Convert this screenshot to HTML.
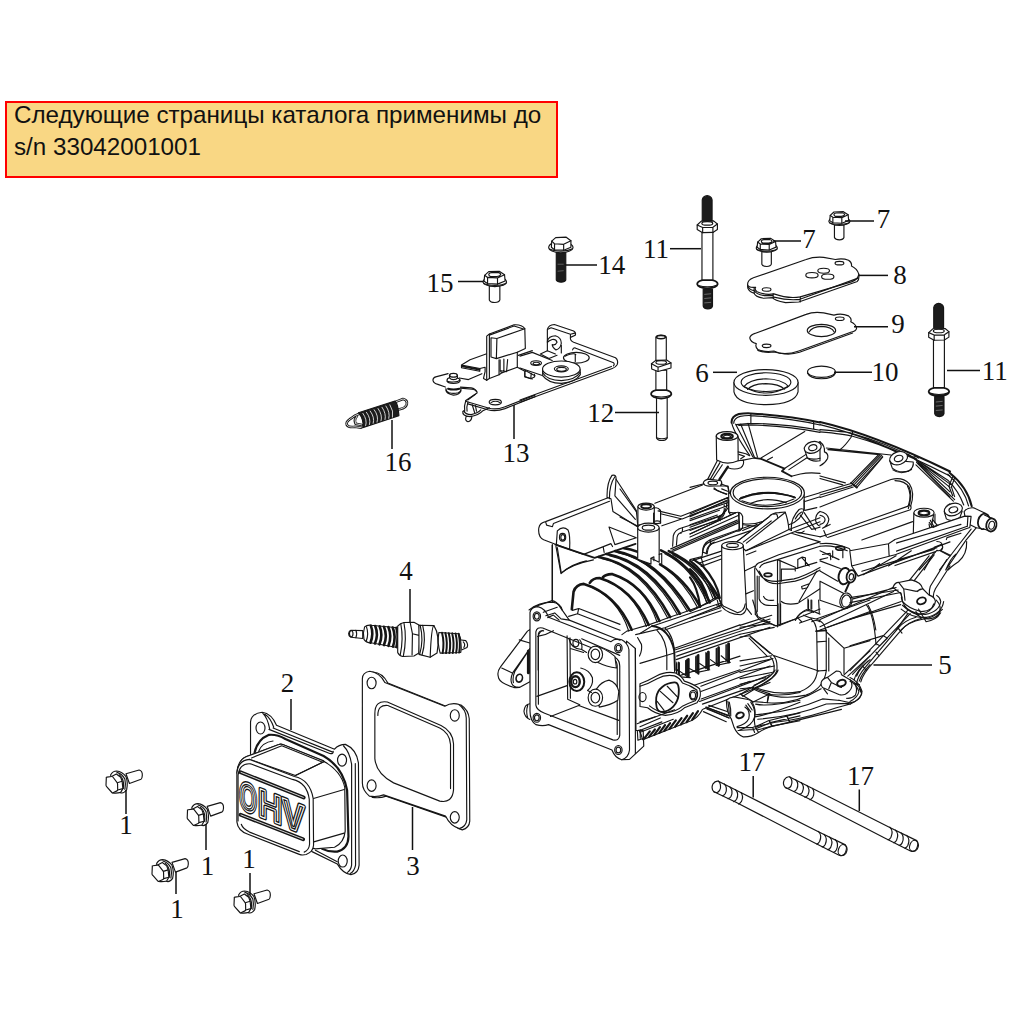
<!DOCTYPE html>
<html lang="ru"><head><meta charset="utf-8"><title>Каталог</title>
<style>
html,body{margin:0;padding:0;background:#fff;}
body{width:1025px;height:1025px;position:relative;overflow:hidden;font-family:"Liberation Sans",sans-serif;}
.note{position:absolute;left:5px;top:101px;width:549px;height:73px;border:2px solid #f00;background:#f9d784;box-sizing:content-box;}
.note p{margin:0;position:absolute;left:7px;top:-4px;font-size:24.2px;line-height:32px;color:#111;white-space:nowrap;}
svg{position:absolute;left:0;top:0;}
svg .l{fill:none;stroke:#151515;stroke-width:1.15;stroke-linecap:round;stroke-linejoin:round;vector-effect:non-scaling-stroke;}
svg .w{fill:#fff;stroke:#151515;stroke-width:1.15;stroke-linecap:round;stroke-linejoin:round;vector-effect:non-scaling-stroke;}
svg .k{fill:#1c1c1c;stroke:#151515;stroke-width:1.15;stroke-linejoin:round;vector-effect:non-scaling-stroke;}
svg .t{fill:none;stroke:#555;stroke-width:.7;stroke-linecap:round;stroke-linejoin:round;vector-effect:non-scaling-stroke;}
svg .sw .l{stroke-width:var(--sw);}
svg .ld{fill:none;stroke:#111;stroke-width:1.5;}
svg text.n{font-family:"Liberation Serif",serif;font-size:27px;fill:#111;text-anchor:middle;}
</style></head><body>
<div class="note"><p>Следующие страницы каталога применимы до<br>s/n 33042001001</p></div>
<svg width="1025" height="1025" viewBox="0 0 1025 1025">
<!-- 10_bolts1.svg -->
<g id="bolts1">
<g transform="translate(96.0,756.0) scale(0.0625)">
<path class="w" d="M480,285 L690,225 Q745,238 741,310 Q738,362 720,372 L535,440 Z"/>
<path class="w" d="M235,300 Q270,240 330,240 Q420,250 480,330 Q515,430 490,540 Q450,600 400,590 Q300,560 240,420 Z"/>
<path class="l" d="M335,262 Q420,285 462,370 Q480,450 462,535"/>
<path class="l" d="M372,300 Q430,350 440,430 Q445,480 435,520"/>
<path class="w" d="M250,328 L325,287 L395,340 L418,405 L430,522 L395,582 Q330,600 268,590 Z"/>
<path class="l" d="M340,428 L418,405 M347,545 L430,522"/>
<path class="w" d="M165,350 Q160,340 175,338 L250,328 Q262,326 270,336 L338,425 Q345,435 345,450 L347,540 Q347,552 335,558 L272,588 Q262,592 254,584 L170,490 Q160,480 160,465 Z"/>
</g>
<g transform="translate(177.2,788.6) scale(0.0625)">
<path class="w" d="M480,285 L690,225 Q745,238 741,310 Q738,362 720,372 L535,440 Z"/>
<path class="w" d="M235,300 Q270,240 330,240 Q420,250 480,330 Q515,430 490,540 Q450,600 400,590 Q300,560 240,420 Z"/>
<path class="l" d="M335,262 Q420,285 462,370 Q480,450 462,535"/>
<path class="l" d="M372,300 Q430,350 440,430 Q445,480 435,520"/>
<path class="w" d="M250,328 L325,287 L395,340 L418,405 L430,522 L395,582 Q330,600 268,590 Z"/>
<path class="l" d="M340,428 L418,405 M347,545 L430,522"/>
<path class="w" d="M165,350 Q160,340 175,338 L250,328 Q262,326 270,336 L338,425 Q345,435 345,450 L347,540 Q347,552 335,558 L272,588 Q262,592 254,584 L170,490 Q160,480 160,465 Z"/>
</g>
<g transform="translate(142.0,844.6) scale(0.0625)">
<path class="w" d="M480,285 L690,225 Q745,238 741,310 Q738,362 720,372 L535,440 Z"/>
<path class="w" d="M235,300 Q270,240 330,240 Q420,250 480,330 Q515,430 490,540 Q450,600 400,590 Q300,560 240,420 Z"/>
<path class="l" d="M335,262 Q420,285 462,370 Q480,450 462,535"/>
<path class="l" d="M372,300 Q430,350 440,430 Q445,480 435,520"/>
<path class="w" d="M250,328 L325,287 L395,340 L418,405 L430,522 L395,582 Q330,600 268,590 Z"/>
<path class="l" d="M340,428 L418,405 M347,545 L430,522"/>
<path class="w" d="M165,350 Q160,340 175,338 L250,328 Q262,326 270,336 L338,425 Q345,435 345,450 L347,540 Q347,552 335,558 L272,588 Q262,592 254,584 L170,490 Q160,480 160,465 Z"/>
</g>
<g transform="translate(224.0,876.0) scale(0.0625)">
<path class="w" d="M480,285 L690,225 Q745,238 741,310 Q738,362 720,372 L535,440 Z"/>
<path class="w" d="M235,300 Q270,240 330,240 Q420,250 480,330 Q515,430 490,540 Q450,600 400,590 Q300,560 240,420 Z"/>
<path class="l" d="M335,262 Q420,285 462,370 Q480,450 462,535"/>
<path class="l" d="M372,300 Q430,350 440,430 Q445,480 435,520"/>
<path class="w" d="M250,328 L325,287 L395,340 L418,405 L430,522 L395,582 Q330,600 268,590 Z"/>
<path class="l" d="M340,428 L418,405 M347,545 L430,522"/>
<path class="w" d="M165,350 Q160,340 175,338 L250,328 Q262,326 270,336 L338,425 Q345,435 345,450 L347,540 Q347,552 335,558 L272,588 Q262,592 254,584 L170,490 Q160,480 160,465 Z"/>
</g>
</g>

<!-- 20_gasket3.svg -->
<g id="gasket3" transform="translate(220,660) scale(0.249756)">
<!-- thickness shadow line (right/bottom) -->
<path class="w" d="M583,75 Q583,50 612,48 Q650,50 672,92 L910,187 Q935,172 965,180 Q995,200 998,235 L1000,645 Q998,672 970,680 Q935,672 915,632 L665,545 Q640,555 610,550 Q583,525 583,495 Z"/>
<path class="w" d="M570,75 Q570,50 600,45 Q640,50 660,90 L900,185 Q925,170 955,177 Q985,198 986,232 L988,640 Q985,668 958,675 Q922,665 903,625 L655,540 Q630,550 598,545 Q570,520 570,492 Z"/>
<path class="w" d="M620,215 Q620,160 670,168 L885,262 Q932,285 935,335 L935,520 Q930,575 880,565 L695,492 Q625,455 620,395 Z"/>
<path class="l" d="M632,222 Q632,178 672,182 L880,272 Q920,292 923,338 L923,515"/>
<ellipse class="w" cx="607" cy="92" rx="18" ry="23"/>
<ellipse class="w" cx="940" cy="222" rx="18" ry="23"/>
<ellipse class="w" cx="607" cy="503" rx="18" ry="23"/>
<ellipse class="w" cx="940" cy="630" rx="18" ry="23"/>
</g>

<!-- 21_cover2.svg -->
<g id="cover2">
<!-- flange + right side : zoom1 coords [228,700] x7.32 -->
<g transform="translate(228,700) scale(0.136585)">
<path class="w" d="M165,395 L165,160 Q170,100 250,90 Q320,100 355,185 L780,360 Q810,325 860,325 Q940,360 955,460 L960,1209 Q955,1270 900,1279 Q840,1270 800,1200 L615,1110 L300,700 Z"/>
<ellipse class="w" cx="238" cy="205" rx="33" ry="44"/>
<ellipse class="w" cx="835" cy="440" rx="33" ry="44"/>
<ellipse class="w" cx="840" cy="1179" rx="33" ry="44"/>
<path class="l" d="M300,215 L745,392 Q775,395 770,375 M330,205 L762,380 M270,105 Q310,130 335,200 M255,98 Q290,130 305,212"/>
<path class="l" d="M905,470 L905,1209 Q900,1245 875,1262 M932,465 L934,1209 Q925,1255 895,1270 M905,470 Q890,380 845,335"/>
<path class="l" style="stroke-width:2.2" d="M195,385 Q215,290 300,255 Q360,250 420,285 L700,410 Q840,490 872,660 L882,1000 Q880,1090 800,1110 Q740,1115 690,1090"/>
<path class="l" d="M225,375 Q250,310 330,300 M640,1100 L800,1185"/>
<!-- body silhouette right part -->
<path class="w" d="M78,535 Q70,440 136,414 L372,326 Q386,320 400,326 L700,448 Q830,520 855,640 L858,960 Q850,1045 780,1078 L640,1090 L300,1000 Z"/>
</g>
<!-- body front: 10.25x coords [232,736] -->
<g transform="translate(232,736) scale(0.097561)">
<path class="w" d="M50,380 Q55,250 150,210 L480,88 Q500,80 520,88 L940,255 L945,262 L650,405 L180,240 Z"/>
<path class="l" d="M200,225 L510,100 L930,270 M650,405 L945,262 M835,640 L1150,548 M838,1085 L1150,995"/>
<path class="w" d="M50,880 L50,380 Q60,250 180,240 L640,415 Q800,450 832,640 L836,1120 Q830,1190 760,1215 Q720,1225 690,1213 L170,1010 Q60,975 50,880 Z"/>
<path class="l" d="M62,870 L62,400 Q80,275 190,285 L620,445 Q770,480 792,650 L795,1110 Q790,1170 740,1190"/>
<path class="l" d="M95,905 Q110,950 180,985 L690,1185"/>
<path class="l" style="stroke-width:3.8" d="M88,372 L735,630 M88,808 L729,1058"/>
<path class="l" style="stroke-width:.8;stroke:#fff" d="M92,373 L731,629 M92,809 L725,1057"/>
</g>
<!-- OHV embossed text -->
<g transform="matrix(0.84,0.336,0,1,239.3,808.1)">
<text x="0" y="0" style="font-family:'Liberation Sans',sans-serif;font-weight:bold;font-size:40px;stroke-linejoin:round;fill:#fff;stroke:#151515;stroke-width:4"><tspan x="0" textLength="21.1" lengthAdjust="spacingAndGlyphs">O</tspan><tspan x="22.2">H</tspan><tspan x="50.9">V</tspan></text>
<text x="0" y="0" style="font-family:'Liberation Sans',sans-serif;font-weight:bold;font-size:40px;stroke-linejoin:round;fill:none;stroke:#fff;stroke-width:1.1"><tspan x="0" textLength="21.1" lengthAdjust="spacingAndGlyphs">O</tspan><tspan x="22.2">H</tspan><tspan x="50.9">V</tspan></text>
</g>
</g>

<!-- 22_plug4.svg -->
<g id="plug4" transform="translate(344,610) scale(0.124878)">
<!-- terminal -->
<path class="w" d="M55,162 L150,165 L150,228 L55,218 Q35,205 37,188 Q40,168 55,162 Z"/>
<ellipse class="l" cx="58" cy="190" rx="14" ry="24"/>
<path class="l" d="M95,163 Q108,190 95,222"/>
<!-- insulator ribs -->
<path class="w" d="M165,135 Q185,118 215,122 L430,142 L425,300 L215,262 Q175,262 160,235 Q148,185 165,135 Z"/>
<path class="l" style="stroke-width:2.6" d="M215,125 Q240,190 212,262 M250,128 Q278,195 248,268 M285,131 Q314,200 284,275 M320,134 Q350,205 320,281 M355,137 Q386,210 356,287 M390,140 Q420,215 392,293 M420,143 Q440,215 420,297"/>
<path class="l" d="M180,135 Q200,190 178,250"/>
<!-- hex -->
<path class="w" d="M430,130 Q450,105 480,100 L560,98 L600,120 L610,200 L600,345 L560,368 L470,372 Q440,365 430,340 Z"/>
<path class="l" d="M530,100 L548,190 L545,360 M548,190 L610,205 M480,102 Q505,230 475,370 M455,112 Q478,230 450,362"/>
<!-- body -->
<path class="w" d="M600,122 L720,125 Q770,200 745,345 L690,378 L600,355 Z"/>
<path class="l" d="M630,123 Q660,240 625,360 M610,122 Q640,240 606,356"/>
<path class="l" d="M720,125 Q700,135 690,378"/>
<!-- thread -->
<path class="w" d="M760,180 L920,190 Q950,260 935,340 L770,345 Q745,260 760,180 Z"/>
<path class="l" style="stroke-width:2" d="M785,182 Q805,260 790,345 M812,184 Q832,262 817,345 M839,186 Q859,264 844,345 M866,187 Q886,266 871,344 M893,188 Q913,268 898,343 M918,190 Q936,268 922,341"/>
<!-- tip -->
<path class="w" d="M940,240 L975,245 Q998,275 985,300 L945,318"/>
<path class="l" d="M955,255 Q975,275 960,300"/>
</g>

<!-- 23_spring16.svg -->
<g id="spring16" transform="translate(330,370) scale(0.124878)">
<!-- right hook -->
<path class="l" style="stroke-width:2.6" d="M525,255 L585,232 Q622,240 615,275 Q605,305 565,312 L540,318"/>
<path class="l" style="stroke-width:.8;stroke:#fff" d="M525,255 L585,232 Q622,240 615,275 Q605,305 565,312 L540,318"/>
<!-- left hook -->
<path class="l" style="stroke-width:2.6" d="M235,350 Q200,360 165,390 Q125,415 135,440 Q150,462 200,455 L250,462 M215,370 Q190,400 205,430 L255,440"/>
<path class="l" style="stroke-width:.8;stroke:#fff" d="M235,350 Q200,360 165,390 Q125,415 135,440 Q150,462 200,455 L250,462 M215,370 Q190,400 205,430 L255,440"/>
<!-- coil body -->
<path class="k" d="M228,342 L520,248 Q545,270 552,365 L262,462 Q275,400 228,342 Z"/>
<path style="fill:none;stroke:#fff;stroke-width:.8;vector-effect:non-scaling-stroke" d="M262,345 Q300,400 285,448 M290,336 Q330,390 315,440 M320,326 Q360,380 345,430 M352,316 Q392,370 376,420 M383,306 Q422,360 408,410 M415,296 Q452,350 440,400 M446,286 Q483,340 470,390 M478,276 Q512,330 500,380"/>
</g>

<!-- 24_bracket13.svg -->
<g id="bracket13">
<g transform="translate(425,320) scale(0.107317)">
<path class="l" d="M1025,700 L740,810 Q660,840 590,820 L385,760 L380,750 L485,680 Q490,655 440,645 L330,635 M190,625 L120,600 Q80,590 75,565 Q70,540 100,530 L215,500 M320,540 L405,555 L530,500"/>
<path class="l" d="M1025,716 L745,826 Q660,856 585,836 L400,782 M470,692 L398,745 M330,625 L430,632 Q470,640 478,665"/>
<path class="l" d="M340,420 L420,370 L575,315 M340,420 L340,445 L510,478 L512,452 L340,420 M512,452 L560,440 L560,480 L545,545 L575,562"/>
<path class="l" style="stroke-width:2" d="M350,432 L505,462"/>
<path class="w" d="M575,150 L600,130 L830,45 Q900,40 930,80 L935,265 L860,300 L860,440 L720,490 L690,510 L600,545 L575,562 Z"/>
<path class="l" d="M600,130 L600,545 M615,165 L670,172 L930,82 M670,172 L665,360 L615,345 L615,165 M665,360 L860,300 M600,141 L830,56 L925,86 M690,370 L690,510"/>
<path class="l" d="M700,372 L700,470 L760,482 L770,368 M735,365 L735,475 M720,490 L700,480"/>
<path class="l" d="M860,440 L935,480 M935,470 L1025,520 M930,490 L930,530 L1000,550 M870,330 L1000,285"/>
<!-- stud -->
<path class="w" d="M205,565 Q205,540 230,538 L228,515 Q232,497 265,497 Q298,497 302,515 L302,540 Q327,545 327,568 Q320,592 265,592 Q210,590 205,565 Z"/>
<path class="l" d="M228,515 Q235,533 265,533 Q298,533 302,515 M230,540 Q240,555 265,555 Q295,555 302,540 M207,572 Q230,580 265,578 Q310,576 326,560"/>
<path class="l" d="M195,640 Q195,665 225,678 Q265,690 310,678 Q335,665 335,645 M195,655 Q200,690 265,700 Q325,695 335,660 M195,640 L195,660 M335,645 L335,662"/>
<path class="l" style="stroke-width:2" d="M215,640 Q265,655 320,640"/>
<!-- hole -->
<ellipse class="l" cx="655" cy="765" rx="57" ry="26"/>
<path class="l" d="M615,770 Q655,745 700,770"/>
<!-- wire -->
<path class="l" d="M380,752 Q362,800 370,850 M400,765 Q385,810 392,850 M440,790 L462,862 M470,798 L480,850 M352,850 Q345,895 420,900 Q500,890 540,845 L600,818 M360,845 Q375,880 430,882 Q490,870 520,838 M382,902 Q370,940 400,948 Q432,942 436,905"/>
</g>
<g transform="translate(520,310) scale(0.107317)">
<path class="l" d="M255,380 L255,180 Q265,140 320,135 L500,195 Q525,210 515,235 L470,255 Q465,285 500,300 L890,445 Q920,470 905,510 Q890,535 860,545 L0,860"/>
<path class="l" d="M265,178 L290,166 L470,226 L510,216 M470,226 L470,255 M520,356 L872,492 M490,372 Q500,345 520,356 M852,526 L0,838 M872,492 Q885,505 870,520"/>
<path class="l" d="M255,292 Q265,242 330,240 Q385,255 385,310 Q375,365 335,372 Q300,350 300,322 Q330,332 345,300 Q335,270 300,275 Q270,285 255,302"/>
<path class="l" d="M255,380 L190,410 L270,452 L345,422 M255,380 L330,410 M385,330 L385,400"/>
<ellipse class="l" cx="525" cy="445" rx="120" ry="50"/>
<path class="l" d="M515,418 L515,480 M420,430 Q500,395 520,415"/>
<!-- arm -->
<path class="l" d="M0,430 L115,395 L300,470 M0,540 L215,612"/>
<ellipse class="l" cx="150" cy="495" rx="50" ry="22"/>
<ellipse class="l" cx="152" cy="499" rx="30" ry="12"/>
<path class="l" d="M45,570 L45,620 L100,640 L105,590 M100,640 L135,625 L135,600"/>
<!-- roller -->
<path class="w" d="M210,555 L212,612 Q260,682 385,684 Q520,672 562,602 L560,555 Z"/>
<path class="l" d="M211,585 Q250,655 385,658 Q520,650 561,580"/>
<ellipse class="w" cx="385" cy="550" rx="175" ry="75"/>
<ellipse class="l" cx="385" cy="548" rx="65" ry="28"/>
<ellipse class="l" cx="387" cy="553" rx="45" ry="18"/>
</g>
</g>

<!-- 30_small.svg -->
<g id="bolt15">
<g transform="translate(470.00,225.00) scale(0.117073)">
<path class="w" d="M165,520 L165,640 Q175,662 212,662 Q250,660 255,640 L255,520 Z"/>
<path class="w" d="M112,490 Q112,462 150,452 L275,452 Q312,465 312,490 Q305,520 212,526 Q120,520 112,490 Z"/>
<path class="l" d="M118,500 Q150,515 212,516 Q280,513 308,497"/>
<path class="w" d="M125,430 L160,398 L250,395 L295,425 L300,478 L235,505 L150,500 L120,480 Z"/>
<path class="l" d="M125,430 L150,448 L235,452 L295,425 M150,448 L150,500 M235,452 L235,505 M160,420 Q165,408 185,407 L240,405 Q262,410 262,425 Q255,438 230,440 L175,440 Q160,435 160,420"/>
</g>
</g>
<g class="bolt7">
<g transform="translate(744.46,196.77) scale(0.105366)">
<path class="w" d="M165,520 L165,640 Q175,662 212,662 Q250,660 255,640 L255,520 Z"/>
<path class="w" d="M112,490 Q112,462 150,452 L275,452 Q312,465 312,490 Q305,520 212,526 Q120,520 112,490 Z"/>
<path class="l" d="M118,500 Q150,515 212,516 Q280,513 308,497"/>
<path class="w" d="M125,430 L160,398 L250,395 L295,425 L300,478 L235,505 L150,500 L120,480 Z"/>
<path class="l" d="M125,430 L150,448 L235,452 L295,425 M150,448 L150,500 M235,452 L235,505 M160,420 Q165,408 185,407 L240,405 Q262,410 262,425 Q255,438 230,440 L175,440 Q160,435 160,420"/>
</g>
</g>
<g class="bolt7">
<g transform="translate(817.06,170.07) scale(0.105366)">
<path class="w" d="M165,520 L165,640 Q175,662 212,662 Q250,660 255,640 L255,520 Z"/>
<path class="w" d="M112,490 Q112,462 150,452 L275,452 Q312,465 312,490 Q305,520 212,526 Q120,520 112,490 Z"/>
<path class="l" d="M118,500 Q150,515 212,516 Q280,513 308,497"/>
<path class="w" d="M125,430 L160,398 L250,395 L295,425 L300,478 L235,505 L150,500 L120,480 Z"/>
<path class="l" d="M125,430 L150,448 L235,452 L295,425 M150,448 L150,500 M235,452 L235,505 M160,420 Q165,408 185,407 L240,405 Q262,410 262,425 Q255,438 230,440 L175,440 Q160,435 160,420"/>
</g>
</g>
<g id="bolt14">
<g transform="translate(470.00,225.00) scale(0.117073)">
<path class="k" d="M737,235 L737,470 Q745,488 778,488 Q812,486 818,470 L818,235 Z"/>
<path style="fill:none;stroke:#777;stroke-width:.7;vector-effect:non-scaling-stroke" d="M748,335 L800,335 M748,395 L800,390"/>
<path class="w" d="M672,195 Q672,165 710,155 L840,155 Q880,168 880,195 Q872,230 775,238 Q680,230 672,195 Z"/>
<path class="l" d="M678,205 Q710,222 775,224 Q845,220 874,203"/>
<path class="w" d="M698,138 L732,108 L822,104 L862,134 L862,190 L800,215 L722,212 L695,190 Z"/>
<path class="l" d="M698,138 L722,160 L800,165 L862,134 M722,160 L722,212 M800,165 L800,215"/>
</g>
</g>
<g id="stud11r">
<g transform="translate(900.00,290.00) scale(0.136612)">
<path class="k" d="M247,290 L247,128 Q252,100 283,97 Q314,100 319,128 L319,290 Z"/>
<path class="k" d="M254,780 L254,905 Q260,925 288,927 Q316,925 322,905 L322,780 Z"/>
<path style="fill:none;stroke:#888;stroke-width:.7;vector-effect:non-scaling-stroke" d="M262,820 L312,815 M262,850 L312,845 M262,882 L312,878"/>
<path class="w" d="M245,360 L245,735 L325,735 L325,360 Z"/>
<path class="w" style="stroke-width:1.8" d="M210,745 Q212,722 250,716 L320,716 Q358,722 360,745 Q355,772 285,776 Q215,772 210,745 Z"/>
<path class="l" d="M218,755 Q250,765 285,765 Q325,764 352,753"/>
<path class="w" d="M210,312 L240,284 L330,282 L358,305 L358,345 L325,366 L250,368 L210,345 Z"/>
<path class="l" d="M210,312 L250,330 L325,328 L358,305 M250,330 L250,368 M325,328 L325,366"/>
<ellipse class="l" cx="284" cy="300" rx="40" ry="13"/>
</g>
</g>
<g id="stud11l">
<g transform="translate(668.50,182.40) scale(0.136612)">
<path class="k" d="M247,290 L247,128 Q252,100 283,97 Q314,100 319,128 L319,290 Z"/>
<path class="k" d="M254,780 L254,905 Q260,925 288,927 Q316,925 322,905 L322,780 Z"/>
<path style="fill:none;stroke:#888;stroke-width:.7;vector-effect:non-scaling-stroke" d="M262,820 L312,815 M262,850 L312,845 M262,882 L312,878"/>
<path class="w" d="M245,360 L245,735 L325,735 L325,360 Z"/>
<path class="w" style="stroke-width:1.8" d="M210,745 Q212,722 250,716 L320,716 Q358,722 360,745 Q355,772 285,776 Q215,772 210,745 Z"/>
<path class="l" d="M218,755 Q250,765 285,765 Q325,764 352,753"/>
<path class="w" d="M210,312 L240,284 L330,282 L358,305 L358,345 L325,366 L250,368 L210,345 Z"/>
<path class="l" d="M210,312 L250,330 L325,328 L358,305 M250,330 L250,368 M325,328 L325,366"/>
<ellipse class="l" cx="284" cy="300" rx="40" ry="13"/>
</g>
</g>
<g id="stud12">
<g transform="translate(620.00,320.00) scale(0.126829)">
<path class="w" d="M283,135 L283,325 L365,325 L365,135 Q355,118 323,118 Q292,118 283,135 Z"/>
<ellipse class="l" style="stroke-width:1.6" cx="323" cy="135" rx="36" ry="13"/>
<path class="w" d="M283,395 L283,560 L368,560 L368,395 Z"/>
<path class="w" d="M288,610 L288,930 Q298,950 330,950 Q362,950 372,930 L372,610 Z"/>
<path class="l" d="M288,928 Q330,945 372,928"/>
<path class="w" style="stroke-width:1.8" d="M245,585 Q247,560 285,553 L365,553 Q403,560 405,585 Q400,615 325,620 Q250,615 245,585 Z"/>
<path class="l" d="M252,595 Q285,607 325,607 Q370,606 398,593"/>
<path class="w" d="M248,345 L282,318 L368,316 L402,338 L402,378 L300,406 L250,386 Z"/>
<path class="l" d="M248,345 L300,372 L402,338 M300,372 L300,406"/>
<ellipse class="l" cx="325" cy="335" rx="42" ry="14"/>
</g>
</g>

<!-- 31_plates.svg -->
<g id="plates">
<g transform="translate(730,250) scale(0.146341)">
<!-- plate 8 -->
<path class="w" d="M120,235 L122,262 Q135,290 165,295 Q170,320 230,330 L290,325 Q300,345 380,360 L470,355 L870,215 Q885,200 880,165 L120,235 Z"/>
<path class="w" d="M120,235 Q120,205 160,190 L520,65 Q570,45 640,50 L720,65 Q770,55 810,70 Q835,85 830,110 Q870,130 880,165 Q878,200 830,218 L480,320 Q400,335 300,300 Q240,310 185,285 Q165,270 175,255 Q125,260 120,235 Z"/>
<path class="l" d="M480,320 L480,355 M295,300 L295,328 M165,262 L165,295 M300,322 Q400,347 478,337 L875,192 M122,250 Q135,275 168,278 Q175,302 235,312 L292,312"/>
<ellipse class="l" cx="250" cy="270" rx="30" ry="12"/>
<ellipse class="l" cx="748" cy="90" rx="30" ry="12"/>
<ellipse class="l" cx="560" cy="172" rx="42" ry="18"/>
<ellipse class="l" cx="640" cy="142" rx="40" ry="17"/>
<ellipse class="l" cx="668" cy="182" rx="42" ry="18"/>
<!-- gasket 9 -->
<path class="w" d="M135,600 Q140,580 170,570 L520,440 Q570,420 640,430 L710,445 Q760,430 810,450 Q835,470 825,490 Q860,505 865,535 Q860,555 830,560 L470,690 Q400,715 340,705 L300,690 Q240,700 190,680 Q170,660 180,640 Q140,630 135,600 Z"/>
<path class="l" d="M300,697 Q400,724 475,699 L838,567 M190,686 Q240,706 300,697"/>
<ellipse class="l" cx="250" cy="655" rx="30" ry="12"/>
<ellipse class="l" cx="750" cy="470" rx="30" ry="12"/>
<ellipse class="l" cx="625" cy="550" rx="97" ry="42"/>
<path class="l" d="M540,560 Q560,525 625,522 Q695,525 712,560"/>
<!-- disc 10 -->
<path class="w" d="M530,832 L530,842 Q545,878 625,880 Q705,878 720,842 L720,832 Z"/>
<ellipse class="w" cx="625" cy="832" rx="95" ry="38"/>
</g>
<!-- seal 6 -->
<g transform="translate(700,340) scale(0.146341)">
<path class="w" d="M232,290 L232,355 Q250,440 450,442 Q650,440 670,355 L670,290 Z"/>
<ellipse class="w" cx="451" cy="290" rx="219" ry="88"/>
<ellipse class="l" cx="451" cy="288" rx="170" ry="64"/>
<path class="l" d="M300,318 Q340,268 450,265 Q560,268 602,316 M325,338 Q360,300 450,298 Q540,300 578,336 M300,318 Q380,365 450,362 Q530,362 602,316"/>
</g>
</g>

<!-- 32_studs17.svg -->
<g id="studs17">
<g transform="translate(700,730) scale(0.224390) translate(0,0)">
<path class="w" d="M82,228 L175,275 L530,455 L648,512 Q662,530 650,550 Q638,565 620,558 L505,500 L160,322 L62,275 Q48,262 58,240 Q68,225 82,228 Z"/>
<path class="l" d="M82,228 Q98,245 88,268 Q78,285 62,275 M108,240 Q125,258 113,283 Q108,292 100,293 M133,253 Q150,271 138,296 Q133,305 125,306 M158,266 Q175,284 163,309 Q158,318 150,319 M183,279 Q195,295 185,318 Q180,328 172,330"/>
<path class="l" d="M528,452 Q545,470 533,497 Q528,507 520,508 M553,465 Q570,483 558,510 Q553,520 545,521 M578,477 Q595,495 583,522 Q578,532 570,533 M603,489 Q620,507 608,534 Q603,544 595,545"/>
<ellipse class="l" cx="634" cy="535" rx="17" ry="25" transform="rotate(20 634 535)"/>
</g>
<g transform="translate(700,730) scale(0.224390) translate(318,-19)">
<path class="w" d="M82,228 L175,275 L530,455 L648,512 Q662,530 650,550 Q638,565 620,558 L505,500 L160,322 L62,275 Q48,262 58,240 Q68,225 82,228 Z"/>
<path class="l" d="M82,228 Q98,245 88,268 Q78,285 62,275 M108,240 Q125,258 113,283 Q108,292 100,293 M133,253 Q150,271 138,296 Q133,305 125,306 M158,266 Q175,284 163,309 Q158,318 150,319 M183,279 Q195,295 185,318 Q180,328 172,330"/>
<path class="l" d="M528,452 Q545,470 533,497 Q528,507 520,508 M553,465 Q570,483 558,510 Q553,520 545,521 M578,477 Q595,495 583,522 Q578,532 570,533 M603,489 Q620,507 608,534 Q603,544 595,545"/>
<ellipse class="l" cx="634" cy="535" rx="17" ry="25" transform="rotate(20 634 535)"/>
</g>
</g>

<!-- 39_arm.svg -->
<g id="arm" transform="translate(490,620) scale(0.117073)">
<path class="w" d="M345,80 L320,95 L90,400 Q60,440 70,480 L75,500 Q90,540 200,575 Q250,585 290,555 L345,525 Z"/>
<path class="l" d="M340,245 L195,450 Q170,500 185,540 Q200,575 240,576 M250,170 L340,196 M100,410 L190,452 M322,272 L212,440 Q190,490 200,535"/>
<ellipse class="l" style="stroke-width:1.6" cx="250" cy="497" rx="27" ry="34" transform="rotate(15 250 497)"/>
<path class="l" style="stroke-width:3" d="M328,265 L328,450"/>
<path class="l" d="M340,715 Q295,720 290,780 Q295,830 340,850 M322,730 Q305,780 322,835"/>
</g>

<!-- 40_case_B1.svg -->
<g id="caseB1" transform="translate(490,590) scale(0.195122)">
<!-- frame right-side depth -->
<path class="w" d="M700,262 L745,300 L748,720 L785,720 L788,800 L715,868 L675,870 Z"/>
<path class="l" d="M745,300 L745,838 M770,715 L770,760 M755,720 L758,770 L788,760"/>
<!-- front frame -->
<path class="w" d="M205,620 L205,115 Q210,88 245,85 Q285,95 300,140 L620,265 Q640,245 675,255 Q705,270 712,305 L715,820 Q710,860 675,870 Q640,860 625,820 L300,690 Q270,700 235,690 Q205,670 205,620 Z"/>
<path class="w" d="M235,590 L235,215 Q240,188 270,195 L640,345 Q665,360 665,390 L665,745 Q660,775 630,768 L280,632 Q238,615 235,590 Z"/>
<path class="l" d="M248,585 L248,225 Q252,205 275,210 M640,358 Q652,368 652,395 L652,740"/>
<ellipse class="l" cx="240" cy="135" rx="19" ry="23"/>
<ellipse class="l" cx="240" cy="135" rx="12" ry="15"/>
<ellipse class="l" cx="658" cy="298" rx="19" ry="23"/>
<ellipse class="l" cx="658" cy="298" rx="12" ry="15"/>
<ellipse class="l" cx="240" cy="655" rx="19" ry="23"/>
<ellipse class="l" cx="240" cy="655" rx="12" ry="15"/>
<ellipse class="l" cx="658" cy="820" rx="19" ry="23"/>
<ellipse class="l" cx="658" cy="820" rx="12" ry="15"/>
<!-- interior -->
<path class="l" d="M395,235 L398,560 M410,245 L412,555 M240,545 L395,490 M398,560 L460,588 M310,648 L455,592 L660,668 M412,300 L480,320 M470,250 L665,335"/>
<path class="l" d="M405,250 Q415,300 470,305 Q475,275 460,255 M470,305 L495,320"/>
<ellipse class="l" cx="440" cy="272" rx="15" ry="19"/>
<path class="w" d="M540,292 Q580,290 640,340 L648,400 Q600,395 545,368 Z"/>
<ellipse class="w" cx="540" cy="330" rx="37" ry="42"/>
<ellipse class="l" cx="540" cy="330" rx="22" ry="27"/>
<path class="w" d="M545,508 Q570,470 610,462 Q650,475 660,520 L655,565 Q620,590 560,600 Z"/>
<ellipse class="w" cx="540" cy="552" rx="37" ry="44"/>
<ellipse class="l" cx="540" cy="552" rx="22" ry="27"/>
<path class="l" d="M465,400 Q510,410 525,450 Q530,490 500,515 M500,515 L520,525"/>
<ellipse class="w" style="stroke-width:2" cx="445" cy="470" rx="38" ry="48"/>
<ellipse class="l" style="stroke-width:2.4" cx="438" cy="470" rx="22" ry="28"/>
<ellipse class="l" cx="436" cy="470" rx="9" ry="12"/>
</g>

<!-- 41_case_M.svg -->
<g id="caseM" transform="translate(540,500) scale(0.195122)">
<!-- fins -->
<g class="sw" style="--sw:2.6">
<path class="l" d="M163,560 L172,470 Q185,432 225,430 Q390,480 470,665"/>
<path class="l" d="M255,425 Q270,400 305,400 Q470,450 557,640"/>
<path class="l" d="M322,396 Q340,378 372,380 Q530,430 612,620"/>
<path class="l" d="M300,292 Q520,330 667,600"/>
<path class="l" d="M340,277 Q560,315 717,583"/>
<path class="l" d="M385,262 Q600,300 767,565"/>
<path class="l" d="M430,247 Q500,255 560,300 M615,330 Q740,400 820,545"/>
<path class="l" d="M620,258 Q780,330 870,525"/>
<path class="l" d="M660,262 Q830,340 915,500"/>
</g>
<path class="l" d="M240,436 Q400,500 455,672 M318,404 Q480,465 545,648 M385,384 Q540,445 600,626 M315,300 Q520,345 655,606 M355,285 Q560,330 705,588 M400,270 Q600,312 755,570 M635,345 Q740,420 808,552 M640,275 Q780,345 858,530 M680,280 Q820,350 902,508"/>
<path class="l" d="M470,665 L557,640 M557,640 L612,620 L667,600 L717,583 L767,565 L820,545 L870,525 L915,500 L935,540"/>
<!-- fin base -->
<path class="l" d="M420,690 L445,672 L470,665"/>
<!-- cylinder band -->
<path class="l" d="M490,690 L640,655 L930,540 L1025,580 M500,705 L520,740 Q525,770 510,800 M640,655 Q690,700 690,800 L690,880 M600,668 Q650,720 650,800 L650,870 M690,760 L1025,640 M700,800 L1025,688 M930,540 L915,500"/>
<!-- comb -->
<g class="sw" style="--sw:2">
<path class="l" d="M712,835 L712,900 M762,815 L762,905 M812,795 L812,890 M862,778 L862,868 M915,757 L915,850 M965,737 L965,830"/>
</g>
<path class="l" d="M700,838 L700,905 L770,910 M750,820 L750,895 M800,800 L800,885 L870,870 M850,782 L850,865 M903,762 L903,848 L975,832 M953,742 L953,828 M700,905 L1025,800 M760,960 L1025,870"/>
</g>

<!-- 42_case_J.svg -->
<g id="caseJ" transform="translate(490,540) scale(0.126829)">
<!-- ear depth -->
<path class="l" d="M340,530 L490,478 Q520,482 540,512 L625,632 M420,570 L530,530 M440,597 L510,575 L560,622 L625,632 M455,612 L500,592 L545,632"/>
<path class="l" d="M625,632 L1025,790"/>
<!-- wall vertical -->
<path class="l" d="M490,40 L490,478"/>
<!-- fin base at left -->
<path class="l" d="M650,555 L700,540 L690,582 L620,602 M700,540 L1025,665 M690,582 L1025,712"/>
<!-- arc inside opening -->
<path class="l" d="M375,760 Q440,750 500,715 M380,1025 L380,765 Q385,722 420,712"/>
<!-- flap -->
<path class="l" d="M520,50 L560,265 Q640,190 760,165"/>
</g>

<!-- 43_case_A1.svg -->
<g id="caseA1" transform="translate(490,410) scale(0.195122)">
<!-- top rail -->
<path class="l" d="M250,605 Q255,578 285,572 L605,450 M325,582 L612,468 M285,572 L290,590 L320,598 L325,582 M250,605 Q245,650 275,665 L335,688"/>
<!-- lug -->
<path class="w" d="M340,690 L345,620 Q372,592 400,615 Q412,640 408,715 Z"/>
<ellipse class="l" cx="372" cy="652" rx="16" ry="20"/>
<ellipse class="l" cx="373" cy="653" rx="10" ry="14"/>
<!-- under rail, shroud edge -->
<path class="l" style="stroke-width:1.8" d="M335,690 L536,758 L746,686"/>
<path class="l" d="M408,715 L480,740 L620,685 L628,700 M580,700 L585,730 M345,705 L365,835 Q420,790 530,768"/>
<path class="l" d="M320,690 L320,985 M200,1025 Q250,985 320,985 Q360,990 370,1025"/>
<!-- blade -->
<path class="w" d="M600,448 Q598,375 625,335 Q648,328 646,355 L750,515 L758,600 L630,520 L620,455 Z"/>
<path class="l" d="M612,455 Q612,380 640,342 M646,355 L640,440 L745,560"/>
<path class="l" d="M610,600 L640,690 L750,655 Z"/>
<!-- boss 1 -->
<path class="w" d="M758,495 L758,590 L842,585 L842,495 Z"/>
<ellipse class="w" cx="800" cy="495" rx="42" ry="18"/>
<ellipse class="l" style="stroke-width:2" cx="800" cy="493" rx="25" ry="10"/>
<!-- boss 2 -->
<path class="w" d="M757,605 L757,765 L825,790 L825,760 L867,780 L867,605 Z"/>
<ellipse class="w" cx="812" cy="603" rx="55" ry="23"/>
<ellipse class="l" cx="812" cy="603" rx="32" ry="13"/>
<path class="l" d="M825,760 L840,752 L840,772 M867,740 L880,735 L880,790"/>
</g>

<!-- 44_case_K1.svg -->
<g id="caseK1" transform="translate(690,410) scale(0.126829)">
<!-- rim arcs -->
<path class="l" style="stroke-width:2" d="M328,100 Q325,50 385,32 Q430,25 480,27 Q780,45 1025,98"/>
<path class="l" d="M345,105 Q345,65 395,50 Q440,42 480,44 Q780,62 1025,118 M365,115 L480,105 Q760,110 1025,160 M385,122 L480,118 Q760,125 1025,176 M480,28 L480,105 M975,88 L975,152"/>
<path class="l" d="M330,105 Q345,175 470,358 M360,112 L495,368 M400,112 L508,372 M458,105 L532,372"/>
<!-- deck raised region -->
<path class="l" style="stroke-width:1.8" d="M505,378 L560,385 L745,462 L725,482 L800,522"/>
<path class="l" d="M420,395 L505,378 M800,522 L870,505 Q940,490 1025,500 M560,378 L905,170 M745,462 L915,350 M780,470 L940,365 M610,395 L650,372"/>
<!-- threaded boss -->
<path class="w" d="M207,205 L210,395 Q290,440 380,400 L378,205 Z"/>
<ellipse class="w" cx="292" cy="205" rx="85" ry="35"/>
<ellipse class="l" style="stroke-width:2.2" cx="292" cy="207" rx="45" ry="19"/>
<ellipse class="l" cx="292" cy="210" rx="27" ry="11"/>
<path class="l" d="M380,400 L420,395 Q432,430 400,455 Q350,475 300,455 M380,330 L440,345 L470,360 M385,350 L430,365 L400,385"/>
<!-- arm to eye -->
<path class="l" d="M215,400 L140,545 M255,432 L178,548 M236,415 L160,545"/>
<path class="l" style="stroke-width:2.4" d="M298,448 L232,548"/>
<path class="l" d="M105,575 Q110,550 150,545 L245,558 Q258,580 240,597 L150,600 Q108,598 105,575 Z M240,597 L300,600 L310,660 M190,615 Q215,642 250,650 L292,662 M250,622 L296,640"/>
<ellipse class="l" cx="180" cy="575" rx="38" ry="14"/>
<!-- right boss -->
<path class="w" d="M900,300 L925,378 Q960,412 1025,400 L1025,250 Z"/>
<ellipse class="w" cx="968" cy="295" rx="68" ry="45" transform="rotate(-15 968 295)"/>
<ellipse class="l" cx="968" cy="297" rx="33" ry="23" transform="rotate(-15 968 297)"/>
<path class="l" d="M925,378 Q970,395 1025,380"/>
<!-- bearing ring -->
<path class="w" d="M305,655 L305,800 Q320,850 420,905 Q600,935 780,905 Q880,870 900,780 L900,655 Z"/>
<ellipse class="w" cx="610" cy="655" rx="292" ry="125"/>
<ellipse class="l" cx="610" cy="652" rx="270" ry="110"/>
<path class="l" d="M390,702 Q600,600 830,692 M410,716 Q610,792 820,702 M400,690 Q600,625 822,684 M480,735 Q600,680 760,732"/>
<path class="l" style="stroke-width:1.8" d="M395,700 Q600,612 828,690"/>
<!-- left deck lines -->
<path class="l" d="M0,610 L110,582 M0,820 L300,690 M0,842 L290,712 M0,872 L232,790 M0,905 L215,828"/>
<!-- right lines -->
<path class="l" d="M900,690 L1025,652 M905,722 L1025,684"/>
</g>

<!-- 45_case_K2.svg -->
<g id="caseK2" transform="translate(690,500) scale(0.126829)">
<!-- deck long lines left of ring -->
<path class="l" d="M300,20 L0,122 M295,45 L0,150 M240,125 L0,215 M235,150 L0,240 M290,20 Q292,90 235,140 M270,40 L270,80 Q260,120 220,150"/>
<!-- rib 1 -->
<path class="w" d="M360,100 Q400,85 415,130 L415,215 Q400,250 370,245 L160,328 L0,268 Z" style="stroke:none"/>
<path class="l" d="M0,268 L360,100 Q400,85 415,130 L415,215 Q400,250 370,245 L160,328"/>
<path class="l" d="M380,122 L0,292 M382,105 Q395,170 385,240 M360,100 L0,268"/>
<path class="l" d="M160,328 Q108,345 100,410 L95,445 M192,332 Q140,352 135,425 M100,410 L135,425 M95,445 L0,470"/>
<!-- ring bottom front & floor -->
<path class="l" d="M415,185 Q500,200 600,160 M415,240 L530,192 M305,0 L305,95 Q330,105 360,100"/>
<!-- rib 2 -->
<path class="w" d="M620,135 Q650,100 700,100 L750,95 Q772,150 780,232 L440,400 L365,332 Z"/>
<path class="l" d="M640,165 L420,332 M750,98 L445,340 M620,135 L365,332 M660,112 Q690,100 690,135"/>
<!-- right foot -->
<path class="l" d="M800,240 Q790,150 860,75 Q885,60 905,82 M830,250 Q870,272 900,245 M780,232 L800,240 M905,82 L1000,60 M870,120 L960,232 L1025,215 M900,100 L990,236 M830,150 Q850,110 880,95 M900,0 L900,70"/>
<path class="l" d="M1025,90 Q990,110 990,160 Q1000,200 1025,205"/>
<!-- long deck edge lines -->
<path class="l" d="M440,400 L1025,172 M445,432 L520,402 M780,232 L1025,140 M800,262 L1025,330 M850,255 L1025,290"/>
<!-- box -->
<path class="w" style="stroke:none" d="M510,545 Q515,500 560,490 L700,432 L1025,330 L1025,860 L690,995 L545,942 L515,900 Z"/>
<path class="l" d="M1025,330 L700,432 L560,490 Q515,500 510,545 L515,900"/>
<path class="l" d="M520,540 L560,600 Q600,642 680,642 L820,622 Q900,602 1025,532 M550,532 Q560,506 600,496 L690,470 L1025,365 M545,560 L575,612 Q610,660 690,660 L830,640 Q910,620 1025,552"/>
<path class="l" d="M545,602 L545,780 Q560,832 640,832 L690,830 M690,470 L690,1000 M710,480 L710,990 M515,900 L545,942 L690,995 L1025,860 M530,600 L530,880"/>
<path class="l" d="M690,470 L830,530 L830,560 M720,545 L820,545 L1000,492 M850,470 L850,540 M880,452 L940,520 M850,470 L885,450 L910,455 L910,520 M720,545 L720,640"/>
<ellipse class="l" style="stroke-width:1.8" cx="615" cy="590" rx="30" ry="14"/>
<path class="l" d="M880,682 L940,660 L925,692 L885,702 Z M1000,560 L860,800 M720,800 Q760,832 850,815 L1025,700 M580,760 Q600,800 660,790"/>
<!-- boss 3 -->
<path class="w" d="M250,360 L250,840 Q300,900 400,905 Q440,890 445,850 L420,360 Z"/>
<ellipse class="w" cx="335" cy="360" rx="85" ry="32"/>
<ellipse class="l" cx="335" cy="358" rx="46" ry="16"/>
<path class="l" d="M250,820 Q225,852 212,832 M445,850 L485,902 M430,560 L510,522 M440,740 L500,715"/>
<!-- fins bottom-left -->
<g class="sw" style="--sw:2.2">
<path class="l" d="M30,470 L100,520 Q210,640 235,772 M0,480 Q120,560 200,770 M0,545 Q100,625 150,800 M0,610 Q60,690 80,842"/>
</g>
<path class="l" d="M0,500 Q110,585 180,775 M0,565 Q85,640 130,805 M235,772 L200,770 L150,800 L80,842 L0,880 M0,930 L240,850 M240,850 Q220,830 215,790"/>
<!-- bottom right -->
<path class="l" d="M830,950 Q870,880 930,860 L1025,900 M850,930 L880,960 M930,780 L930,850 M960,790 L960,860 M960,960 Q990,940 1025,960"/>
</g>

<!-- 46_case_K3.svg -->
<g id="caseK3" transform="translate(820,410) scale(0.126829)">
<path class="l" style="stroke-width:2" d="M0,95 Q420,190 1025,485"/>
<path class="l" d="M0,115 Q420,215 1025,520 M0,155 Q200,170 255,185 Q520,260 760,385 M0,172 Q200,190 250,205 Q480,270 600,332 M258,172 L245,215 Q200,280 160,312"/>
<path class="l" d="M745,385 L1025,610 M760,400 L1025,645 M772,422 L1025,685 M735,372 Q760,360 775,380"/>
<!-- left boss remainder -->
<path class="l" d="M0,250 Q40,282 35,330 Q70,342 60,382 Q40,420 0,440"/>
<path class="l" d="M50,300 L560,355 M62,312 L470,352 M160,312 L62,312"/>
<!-- hatched rib -->
<path class="w" d="M245,575 L460,355 Q480,345 495,370 L290,612 Z"/>
<path class="l" d="M255,582 L470,360 M266,592 L480,366 M279,602 L490,373"/>
<path class="l" style="stroke-width:1.8" d="M245,575 L290,612"/>
<!-- middle boss -->
<path class="w" d="M548,395 L570,458 Q620,502 700,482 Q742,450 735,410 Z"/>
<path class="l" d="M575,472 Q640,518 722,470"/>
<ellipse class="w" cx="620" cy="380" rx="72" ry="50" transform="rotate(-18 620 380)"/>
<ellipse class="l" cx="620" cy="382" rx="35" ry="24" transform="rotate(-18 620 382)"/>
<!-- channel -->
<path class="l" d="M0,650 L245,580 M0,670 L252,596 M0,690 L262,607 M0,765 L330,635 L560,548 Q650,525 705,582 Q750,650 715,757 M690,600 Q725,660 698,750"/>
<path class="l" d="M0,540 L180,590 M0,520 L200,575"/>
<path class="l" d="M50,985 L690,760 M60,1005 L712,786 M330,1025 L730,880 M0,1000 L50,985 M690,760 Q700,740 715,757 Q722,775 712,786"/>
<!-- threaded boss -->
<path class="w" d="M740,812 L735,1000 L870,960 L895,830 Z"/>
<ellipse class="w" cx="820" cy="810" rx="80" ry="35"/>
<ellipse class="l" style="stroke-width:2.2" cx="820" cy="812" rx="42" ry="18"/>
<path class="l" d="M870,870 L905,930 M885,860 L930,915 M860,900 L870,960"/>
<!-- far right boss partial -->
<path class="l" d="M1025,740 Q980,760 985,810 Q990,842 1025,852"/>
<!-- bottom-left boss partial -->
<path class="l" d="M0,800 Q60,810 70,860 Q65,910 20,932 M0,830 Q40,840 40,866 Q35,895 0,902 M20,932 L80,902 M30,950 L50,1000"/>
<path class="l" d="M700,990 L1025,900 M760,1025 L1025,942"/>
</g>

<!-- 47_case_K5.svg -->
<g id="caseK5" transform="translate(895,440) scale(0.126829)">
<path class="l" style="stroke-width:2" d="M430,258 Q570,370 605,522"/>
<path class="l" d="M415,270 Q545,380 580,520 M100,110 L420,320 Q500,400 542,512 M160,150 L440,352 M170,176 L470,470 M165,196 L460,482 M455,290 L425,365 L455,440 M470,300 L445,370 L470,446"/>
<!-- channel end second line -->
<path class="l" d="M0,320 Q80,322 112,372 Q140,430 105,540"/>
<!-- boss right -->
<path class="w" d="M388,565 L405,622 Q450,652 512,610 L530,560 Z"/>
<ellipse class="w" cx="460" cy="548" rx="72" ry="48" transform="rotate(-15 460 548)"/>
<ellipse class="l" cx="460" cy="550" rx="35" ry="22" transform="rotate(-15 460 550)"/>
<!-- pivot boss -->
<path class="w" d="M545,565 Q570,530 620,535 L712,578 L690,700 L640,692 L560,652 Z"/>
<ellipse class="w" style="stroke-width:1.8" cx="700" cy="642" rx="45" ry="62" transform="rotate(15 700 642)"/>
<path class="w" d="M700,600 L762,620 L760,722 L700,700 Z" style="stroke:none"/>
<path class="l" d="M705,592 L765,618 M698,700 L752,722"/>
<ellipse class="w" style="stroke-width:1.8" cx="760" cy="670" rx="40" ry="52" transform="rotate(12 760 670)"/>
<ellipse class="l" cx="762" cy="672" rx="22" ry="32" transform="rotate(12 762 672)"/>
<!-- rail -->
<path class="w" d="M0,785 L550,600 L600,602 L590,690 L560,700 L0,905 Z"/>
<path class="l" d="M0,815 L400,700 M0,880 L570,680 M575,602 L570,682 M0,960 L330,850 M0,990 L320,880 M400,700 L520,665 M410,770 L520,735 M410,770 L405,785"/>
<!-- threaded boss (extends K3) lower lines -->
<path class="l" d="M270,650 L300,690 L340,672 M315,585 L315,652"/>
<!-- lower right -->
<path class="l" d="M640,692 L560,790 L400,1025 M600,702 L500,830 L350,1025 M565,800 Q570,900 500,960 Q440,1000 420,1025 M480,900 Q440,930 400,1025 M330,800 Q380,800 375,850 Q360,882 330,870 M360,872 L440,910 M330,870 L190,1025 M300,900 L230,1025"/>
</g>

<!-- 48_case_K4.svg -->
<g id="caseK4" transform="translate(820,500) scale(0.126829)">
<!-- box corner and small boss -->
<path class="l" d="M0,345 Q100,330 230,382 L240,398 M0,365 Q100,352 215,400 M100,400 L100,452 M20,430 L80,420 L85,470 M0,470 L60,455 M180,400 L180,455"/>
<ellipse class="l" style="stroke-width:1.8" cx="160" cy="380" rx="35" ry="15"/>
<!-- bar -->
<path class="w" style="stroke:none" d="M235,400 L540,345 L600,312 L600,432 L560,440 L250,520 Z"/>
<path class="l" d="M235,400 L540,345 L591,312 M540,345 L545,440 M235,400 L250,520 L560,440 L600,430 M300,600 L600,490 M330,562 L600,480 M250,520 L300,600"/>
<path class="l" d="M340,590 L600,440 M540,520 L720,400 M420,540 L470,502 M600,490 L1025,330 M620,470 L900,390"/>
<!-- lever end -->
<path class="l" d="M0,480 L160,540 M0,560 L140,640 M0,400 L150,470"/>
<ellipse class="w" style="stroke-width:2" cx="192" cy="600" rx="45" ry="65" transform="rotate(12 192 600)"/>
<ellipse class="w" style="stroke-width:1.8" cx="245" cy="602" rx="35" ry="50" transform="rotate(12 245 602)"/>
<ellipse class="l" cx="247" cy="606" rx="17" ry="25" transform="rotate(12 247 606)"/>
<path class="l" style="stroke-width:2" d="M232,650 L200,722"/>
<!-- tube -->
<path class="w" d="M185,735 L0,640 L0,790 L190,856 Z"/>
<ellipse class="w" cx="205" cy="795" rx="48" ry="62" transform="rotate(12 205 795)"/>
<ellipse class="l" cx="207" cy="797" rx="36" ry="48" transform="rotate(12 207 797)"/>
<!-- right struts -->
<path class="l" d="M900,372 L960,350 Q978,380 950,402 L1025,442 M860,440 L700,640 M900,432 L740,640 M1000,470 L870,680 M1025,520 L910,700 Q880,760 905,800 M870,680 Q850,740 880,790"/>
<!-- mount lug -->
<path class="w" d="M575,690 Q590,650 620,650 L720,630 Q800,650 810,700 L860,750 Q905,762 910,800 Q900,872 800,880 Q700,860 650,800 L640,740 Z"/>
<ellipse class="l" style="stroke-width:1.8" cx="800" cy="795" rx="36" ry="26" transform="rotate(-20 800 795)"/>
<path class="l" d="M620,650 L660,700 L760,720 L810,700 M660,700 L670,790 M650,830 Q720,902 830,902 Q940,882 952,800 Q948,770 920,752 M640,860 Q720,930 840,925 Q960,900 975,800 M810,700 Q780,700 770,722"/>
<!-- long lines -->
<path class="l" d="M0,1000 L580,722 M0,942 L575,690 M260,780 L600,690 M0,1025 L640,800 M380,830 Q420,900 440,1025 M640,1025 Q700,960 800,942 Q900,930 965,862 M600,1025 L690,900"/>
</g>

<!-- 49_case_K6.svg -->
<g id="caseK6" transform="translate(620,470) scale(0.126829)">
<!-- deck plate -->
<path class="l" d="M275,262 L650,118 M480,365 L850,218 M300,322 L480,365 M490,386 L855,240 M320,345 L490,386 M850,218 L855,300 M270,300 Q300,290 320,320"/>
<!-- small boss between -->
<path class="l" d="M265,340 L265,410 M320,330 L320,420"/>
<ellipse class="l" cx="292" cy="412" rx="28" ry="11"/>
<!-- channels -->
<path class="l" d="M415,600 L420,520 Q430,470 490,455 L780,365 Q830,340 850,300 M445,592 L450,530 Q455,495 500,485 L770,398 Q810,380 825,340 M490,455 Q500,480 480,500 M330,440 L480,388 M770,365 L790,400"/>
<path class="l" d="M400,622 L925,395 M415,642 L935,417 M410,632 L930,406"/>
<path class="l" d="M650,650 Q650,580 710,550 L1025,440 M680,652 Q685,600 730,580 L1025,480 M710,550 Q725,575 700,600 M560,720 L640,690 L660,760 M600,705 L800,640 M640,760 L800,702 M620,735 L800,672"/>
<!-- rib end (duplicate edges for emphasis) -->
<path class="l" d="M940,335 Q930,400 945,470"/>
<!-- eye arm up -->
<path class="l" d="M800,110 L850,130 L860,182 M740,150 L840,192"/>
<!-- left diag lines -->
<path class="l" d="M0,150 L130,330 M0,370 L138,442"/>
</g>

<!-- 50_case_K7.svg -->
<g id="caseK7" transform="translate(640,600) scale(0.126829)">
<!-- body long lines -->
<path class="l" d="M100,205 L615,32 Q640,20 660,50 L770,100 Q820,92 830,30 M190,238 L640,85 M280,392 L1025,150 M285,470 L1025,215 M282,412 L1025,170 M0,265 L95,205 M0,500 L265,420 M480,680 L1025,470 M480,722 L1025,520 M470,800 L1025,590 M500,860 L1025,650"/>
<path class="l" style="stroke-width:1.8" d="M95,205 Q230,220 270,400 L275,552"/>
<!-- comb -->
<g class="sw" style="--sw:2.4">
<path class="l" d="M375,470 L375,602 M455,440 L455,572 M540,410 L540,545 M620,375 L620,515 M700,345 L700,490"/>
</g>
<path class="l" d="M290,545 L375,605 M390,540 L455,575 M470,500 L540,547 M555,470 L620,517 M640,440 L700,492 M290,490 L290,570 M305,490 L305,582 M360,478 L360,595 M440,448 L440,565 M525,418 L525,538 M605,382 L605,508 M685,352 L685,482"/>
<!-- exhaust flange -->
<path class="w" d="M0,660 Q60,640 130,600 Q200,560 280,575 Q330,600 350,640 Q420,660 470,700 Q490,760 450,810 Q400,830 350,850 Q300,900 200,910 Q120,900 60,850 L0,840 Z"/>
<path class="l" d="M0,680 Q65,660 135,620 Q200,585 272,598 Q315,615 335,655 Q400,675 448,710 Q465,760 435,795 Q390,812 338,835 Q290,880 200,890 Q130,880 75,835"/>
<path class="l" style="stroke-width:1.8" d="M128,770 C135,700 200,655 270,650 C300,648 310,680 305,740 C300,820 240,880 170,882 C130,880 122,830 128,770 Z"/>
<path class="l" d="M160,720 L260,810 M215,680 L300,770 M135,800 L190,870"/>
<ellipse class="l" cx="420" cy="750" rx="30" ry="38"/>
<ellipse class="l" cx="418" cy="752" rx="20" ry="27"/>
<ellipse class="l" cx="20" cy="765" rx="28" ry="36"/>
<path class="l" d="M0,960 L120,920 M0,1000 L160,930 M520,850 L700,930 M500,880 L680,960"/>
<path class="l" d="M880,690 L1025,740 M870,290 L1025,420 M860,300 L1000,440"/>
</g>

<!-- 51_case_K8.svg -->
<g id="caseK8" transform="translate(740,600) scale(0.126829)">
<path class="l" d="M100,0 L140,130 L280,205 L430,152 M300,30 L300,190 M320,30 L320,186 M0,200 L250,120 M0,215 L240,186 M0,270 L270,216 M0,292 L80,282 M540,0 L540,80 M620,0 L625,100 M560,0 L560,70"/>
<!-- sump -->
<path class="l" d="M80,285 L260,435 L620,560 M260,435 Q300,470 290,560 Q260,640 120,690 M240,450 Q275,480 268,555 Q240,625 110,672"/>
<path class="l" d="M120,690 Q300,760 480,720 Q600,670 610,560 L605,250 Q600,180 560,150 L470,182 M100,700 Q300,800 520,750 Q660,700 680,560 L680,250 Q670,170 600,150 Q540,140 500,120 M440,150 Q470,100 520,85 Q560,80 580,97 M600,150 L1025,0 M230,745 L215,810"/>
<path class="l" d="M610,330 L680,325 M610,560 L680,555"/>
<path class="l" style="stroke-width:1.8" d="M600,245 L680,240"/>
<!-- right block -->
<path class="l" d="M680,250 L820,380 L820,580 M820,380 L1025,320 M690,215 L1025,90 M700,560 L700,300"/>
<path class="l" d="M820,590 L1025,400 M850,600 L1025,440 M920,600 Q940,540 1025,470 M940,640 Q960,580 1025,510 M900,630 Q915,560 1010,480"/>
<!-- lug -->
<path class="w" d="M640,650 Q650,620 690,610 L760,560 Q800,560 800,590 L870,630 Q900,680 860,720 Q820,760 780,745 L650,690 Q635,670 640,650 Z"/>
<ellipse class="l" style="stroke-width:2" cx="800" cy="655" rx="35" ry="25" transform="rotate(-20 800 655)"/>
<path class="l" d="M690,610 L720,650 L800,690 M720,650 L700,700 M870,630 Q960,680 960,740 Q940,800 870,810 L780,790 M900,650 Q932,700 910,750 Q880,780 840,775 M660,700 L690,740 M940,700 L960,740"/>
<!-- bottom rim lines -->
<path class="l" d="M120,905 Q420,880 650,780 L790,792 M140,940 Q430,920 680,820 L860,815 M100,1010 Q250,960 380,950 Q560,920 760,850 L870,820 M130,1025 Q400,962 800,862 M370,915 L390,960 M230,950 L250,995 M0,740 L100,800 L220,810 Q420,830 640,700"/>
<!-- left mid rails -->
<path class="l" d="M0,480 L250,440 M0,520 L260,462 M0,572 L272,520 M0,620 L250,572 M0,665 L200,612 M0,700 L110,690"/>
</g>

<!-- 52_case_K9.svg -->
<g id="caseK9" transform="translate(850,590) scale(0.126829)">
<path class="l" d="M405,60 Q420,130 470,160 L560,215 Q640,250 700,190 Q730,130 680,80 M430,130 Q500,200 560,190 Q640,180 660,110 M600,250 Q680,240 715,180 M540,150 L600,250 M520,170 L560,225"/>
<path class="l" d="M455,160 L0,635 M475,186 L20,665 M560,225 Q460,250 400,320 L185,570 Q100,660 85,725 M520,215 Q430,240 380,300 L120,610 Q60,680 50,742 M380,300 L410,340 M270,365 L295,380 L235,440 L210,425 M205,490 L230,520 M100,600 L125,630"/>
<path class="l" d="M0,60 L380,0 M0,100 L400,20 M0,230 L400,115 M0,440 L262,360 M130,118 Q190,200 205,432 M400,20 L410,62"/>
<path class="l" d="M0,690 Q70,720 95,800 Q90,860 0,900 M0,720 Q50,740 70,800 Q65,842 0,880 M30,740 L75,746"/>
</g>

<!-- 53_case_K10.svg -->
<g id="caseK10" transform="translate(620,680) scale(0.126829)">
<path class="l" d="M135,345 L430,235 M150,400 L330,330 M160,412 L420,310 M180,470 L560,322 Q620,292 650,232 M640,150 L1025,10 M650,190 L1025,60 M680,215 L860,280 M700,200 L880,260 M150,395 Q170,430 178,470"/>
<g class="sw" style="--sw:2.2">
<path class="l" d="M190,462 L235,405 M230,447 L275,390 M270,432 L315,372 M310,417 L355,355 M350,400 L395,340 M390,385 L440,318 M435,368 L485,300 M480,350 L530,282 M525,332 L575,262 M570,312 L615,245"/>
</g>
</g>

<!-- 54_case_K11.svg -->
<g id="caseK11" transform="translate(700,670) scale(0.097561)">
<path class="w" d="M270,310 Q300,280 350,275 L480,300 Q530,310 540,340 Q575,400 560,480 Q545,570 600,640 Q520,690 440,685 Q380,660 350,590 L320,500 Q290,460 275,380 Z"/>
<ellipse class="l" style="stroke-width:2" cx="410" cy="465" rx="40" ry="28" transform="rotate(-20 410 465)"/>
<path class="l" d="M460,380 Q520,420 500,500 Q470,560 380,580 M520,330 Q570,400 560,480 Q540,570 400,620 M470,360 L520,430 M490,345 L535,410 M300,330 Q320,400 315,470 M285,320 Q300,400 300,450"/>
<path class="l" d="M600,640 Q700,580 760,570 L1025,520 M380,590 L540,590 Q620,560 700,520 L1025,440 M390,620 L550,610 Q650,570 720,540 L1025,470 M710,520 L740,575 M890,475 L920,530 M540,590 L560,640"/>
<path class="l" d="M560,480 Q700,460 1025,330 M570,350 Q700,380 1025,310 M540,330 L700,250 Q850,270 1025,230 M700,250 L690,330"/>
<path class="l" d="M60,380 L290,470 M70,400 L300,492 M420,245 L530,180 L720,60 Q760,30 770,0 M440,270 L545,205 L740,80 Q790,40 800,0 M530,180 L545,205 M420,245 L440,270"/>
</g>

<!-- 90_labels.svg -->
<g id="labels">
<text class="n" x="126" y="834">1</text><path class="ld" d="M126 790V814"/>
<text class="n" x="207.5" y="875">1</text><path class="ld" d="M206 824V850"/>
<text class="n" x="177" y="918">1</text><path class="ld" d="M176 872V894"/>
<text class="n" x="249" y="868">1</text><path class="ld" d="M250 873V895"/>
<text class="n" x="287.5" y="692">2</text><path class="ld" d="M291 699V730"/>
<text class="n" x="413" y="875">3</text><path class="ld" d="M412.5 807V850"/>
<text class="n" x="406" y="580">4</text><path class="ld" d="M410 589V622"/>
<text class="n" x="945" y="673.5">5</text><path class="ld" d="M873.5 665H932"/>
<text class="n" x="702" y="382">6</text><path class="ld" d="M713 372.3H737"/>
<text class="n" x="809" y="248">7</text><path class="ld" d="M773 241H801"/>
<text class="n" x="883.6" y="228">7</text><path class="ld" d="M845 221H874"/>
<text class="n" x="900" y="284">8</text><path class="ld" d="M859 275.4H888"/>
<text class="n" x="898" y="333">9</text><path class="ld" d="M854 326.7H888"/>
<text class="n" x="885" y="381">10</text><path class="ld" d="M834 372.3H872"/>
<text class="n" x="656" y="258">11</text><path class="ld" d="M670 248.7H701"/>
<text class="n" x="994.7" y="380">11</text><path class="ld" d="M947 370.5H980"/>
<text class="n" x="600.7" y="422">12</text><path class="ld" d="M615 412.6H659"/>
<text class="n" x="516" y="462">13</text><path class="ld" d="M514 405V439"/>
<text class="n" x="611.7" y="274">14</text><path class="ld" d="M565 265H597"/>
<text class="n" x="440" y="292">15</text><path class="ld" d="M458 281.5H483"/>
<text class="n" x="398" y="471">16</text><path class="ld" d="M392 420V449"/>
<text class="n" x="752" y="771">17</text><path class="ld" d="M753.2 776V797.5"/>
<text class="n" x="860.4" y="785">17</text><path class="ld" d="M859.3 789.5V811"/>
</g>

</svg>
</body></html>
